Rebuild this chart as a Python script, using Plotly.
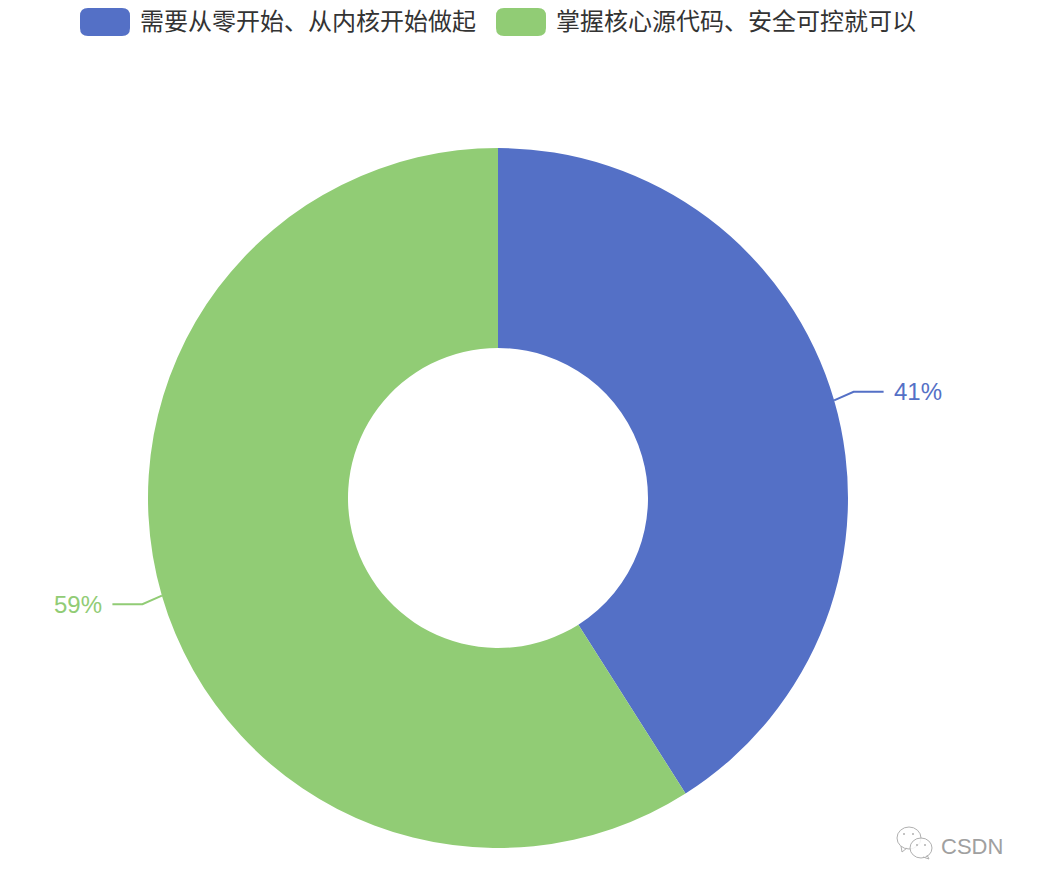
import math
import plotly.graph_objects as go

categories = ["需要从零开始、从内核开始做起", "掌握核心源代码、安全可控就可以"]
values = [41, 59]
colors = ["#5470c6", "#91cc75"]

W, H = 1038, 888
CX, CY, R, R_IN = 498, 498, 350, 150
FONT = "Noto Sans CJK SC, Liberation Sans, sans-serif"
NUM_FONT = "Liberation Sans, Arial, sans-serif"


def px(x):
    return x / W


def py(y):
    return 1 - y / H


def rounded(x0, y0, x1, y1, r):
    pts = [
        (x0 + r, y0), (x1 - r, y0), (x1, y0, x1, y0 + r), (x1, y1 - r),
        (x1, y1, x1 - r, y1), (x0 + r, y1), (x0, y1, x0, y1 - r),
        (x0, y0 + r), (x0, y0, x0 + r, y0),
    ]
    d = f"M {px(pts[0][0])} {py(pts[0][1])}"
    for p in pts[1:]:
        if len(p) == 2:
            d += f" L {px(p[0])} {py(p[1])}"
        else:
            d += f" Q {px(p[0])} {py(p[1])} {px(p[2])} {py(p[3])}"
    return d + " Z"


fig = go.Figure(
    go.Pie(
        labels=categories,
        values=values,
        hole=R_IN / R,
        sort=False,
        direction="clockwise",
        rotation=0,
        textinfo="none",
        marker=dict(colors=colors, line=dict(width=0)),
        domain=dict(x=[px(CX - R), px(CX + R)], y=[py(CY + R), py(CY - R)]),
        showlegend=False,
    )
)

shapes = []
annotations = []

# legend
legend_items = [(80, 130, 138), (496, 546, 554)]
for (x0, x1, tx), name, color in zip(legend_items, categories, colors):
    shapes.append(dict(type="path", xref="paper", yref="paper",
                       path=rounded(x0, 8, x1, 36, 8),
                       fillcolor=color, line=dict(width=0)))
    annotations.append(dict(text=name, xref="paper", yref="paper",
                            x=px(tx), y=py(20), xanchor="left", yanchor="middle",
                            showarrow=False,
                            font=dict(family=FONT, size=24, color="#333333")))

# outside labels with leader lines, positioned from the slice mid-angles
total = sum(values)
cum = 0
for v, color in zip(values, colors):
    mid = (cum + v / 2) / total * 2 * math.pi
    cum += v
    sx, cx = math.sin(mid), math.cos(mid)
    side = 1 if sx >= 0 else -1
    vert = 1 if cx >= 0 else -1
    x0, y0 = CX + R * sx, CY - R * cx
    x1, y1 = x0 + side * 19.5, y0 - vert * 8.5
    x2 = x1 + side * 30
    shapes.append(dict(type="path", xref="paper", yref="paper",
                       path=f"M {px(x0)} {py(y0)} L {px(x1)} {py(y1)} L {px(x2)} {py(y1)}",
                       line=dict(color=color, width=2)))
    annotations.append(dict(text=f"{v}%", xref="paper", yref="paper",
                            x=px(x2 + side * 8), y=py(y1),
                            xanchor="left" if side > 0 else "right", yanchor="middle",
                            showarrow=False,
                            font=dict(family=NUM_FONT, size=24, color=color)))

# watermark
annotations.append(dict(text="CSDN", xref="paper", yref="paper",
                        x=px(939), y=py(846), xanchor="left", yanchor="middle",
                        showarrow=False,
                        font=dict(family=NUM_FONT, size=22, color="#a0a0a0")))
mark = dict(color="#b0b0b0", width=1)
for (ex, ey, rx, ry) in [(909, 838, 12, 11), (921, 848, 11, 10)]:
    shapes.append(dict(type="circle", xref="paper", yref="paper",
                       x0=px(ex - rx), x1=px(ex + rx), y0=py(ey + ry), y1=py(ey - ry),
                       line=mark, fillcolor="rgba(255,255,255,0.85)"))
for (a, b, c, d) in [(901, 846, 902, 852), (902, 852, 907, 848), (927, 855, 929, 859), (929, 859, 923, 857)]:
    shapes.append(dict(type="line", xref="paper", yref="paper",
                       x0=px(a), y0=py(b), x1=px(c), y1=py(d), line=mark))
for (ex, ey) in [(904, 834), (913, 834), (917, 845), (925, 845)]:
    shapes.append(dict(type="circle", xref="paper", yref="paper",
                       x0=px(ex - 1), x1=px(ex + 1), y0=py(ey + 1), y1=py(ey - 1),
                       line=dict(width=0), fillcolor="#b0b0b0"))

fig.update_layout(
    width=W, height=H,
    margin=dict(l=0, r=0, t=0, b=0),
    paper_bgcolor="white",
    shapes=shapes,
    annotations=annotations,
)

fig.write_html("out.html", config=dict(displayModeBar=False),
               post_script="document.body.style.margin='0';document.documentElement.style.overflow='hidden';")
